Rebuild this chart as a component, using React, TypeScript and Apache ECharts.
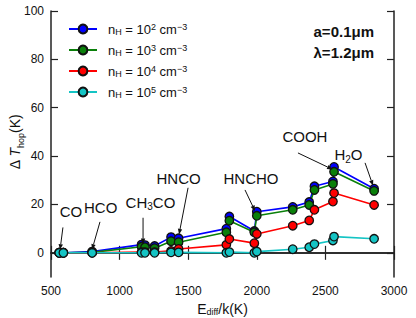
import React, { useEffect, useRef } from "react";
import * as echarts from "echarts";

// ---- data ----
const xs = [560, 590, 800, 1160, 1185, 1255, 1375, 1430, 1778, 1800, 1982, 2000, 2262, 2382, 2420, 2555, 2563, 2855];
const yN2 = [0, 0, 0.5, 3.4, 3.2, 2.8, 6.5, 6.0, 10.0, 15.0, 9.0, 17.0, 19.0, 21.0, 27.5, 29.5, 35.5, 26.5];
const yN3 = [0, 0, 0.2, 2.5, 2.3, 1.9, 4.8, 4.4, 8.5, 13.3, 8.5, 15.3, 17.8, 19.8, 26.0, 28.5, 33.5, 25.6];
const yN4 = [0, 0, 0, 0.3, 0.3, 0.3, 0.8, 1.6, 3.3, 5.7, 4.0, 7.8, 11.2, 13.4, 17.8, 21.2, 24.7, 19.8];
const yN5 = [0, 0, 0, 0, 0, 0, 0.2, 0.2, 0, 0.3, 0, 0.5, 1.5, 2.3, 3.6, 5.1, 6.7, 5.8];
const exponents = [2, 3, 4, 5];
const colors = ["#0000ff", "#0a800a", "#ff0000", "#14c4c4"];
const seriesValues = [yN2, yN3, yN4, yN5];
const yTicks = [0, 20, 40, 60, 80, 100];

// annotations: label (rich), text center [x,y], arrow start, arrow tip (data coords)
const annLabels = ["CO", "HCO", "CH{s|3}CO", "HNCO", "HNCHO", "COOH", "H{s|2}O"];
const annText = [[645, 17], [862, 18.6], [1225, 21], [1430, 30.6], [1958, 30.6], [2351, 48.3], [2668, 40.5]];
const annFrom = [[587, 10.5], [857, 12.8], [1171, 14.5], [1499, 26.9], [1914, 26.0], [2300, 41.3], [2789, 37.2]];
const annTo = [[566, 1.3], [799, 1.3], [1171, 3.6], [1433, 7.6], [1987, 17.3], [2552, 34.5], [2847, 27.8]];

const FONT = "Liberation Sans, Arial, Helvetica, sans-serif";

export default function App() {
  const ref = useRef<HTMLDivElement>(null);
  useEffect(() => {
    document.body.style.margin = "0";
    const chart = echarts.init(ref.current!, undefined, { renderer: "svg" });
    const rich = {
      b: { fontSize: 13, fontFamily: FONT, color: "#111", lineHeight: 14 },
      sub: { fontSize: 9, fontFamily: FONT, color: "#111", lineHeight: 14, verticalAlign: "bottom" },
      sup: { fontSize: 9, fontFamily: FONT, color: "#111", lineHeight: 14, verticalAlign: "top" },
    };
    const axisLine = { show: true, lineStyle: { color: "#222", width: 1.5 } };
    const fmt = (v: number) => String(v);
    chart.setOption({
      animation: false,
      grid: { left: 51, top: 11, width: 343, height: 266, outerBoundsMode: "none", containLabel: false },
      legend: {
        orient: "vertical",
        left: 63,
        top: 17,
        itemWidth: 28,
        itemHeight: 11,
        itemGap: 7,
        textStyle: { fontFamily: FONT, fontSize: 13, color: "#111", padding: [0, 0, 0, 6], rich },
        formatter: (name: string) => {
          const e = name.split("^")[1];
          return `{b|n}{sub|H}{b| = 10}{sup|${e}}{b| cm}{sup|−3}`;
        },
      },
      xAxis: [
        {
          type: "value",
          min: 500,
          max: 3000,
          interval: 500,
          axisLine,
          axisTick: { inside: true, length: 7, lineStyle: { color: "#222", width: 1.2 } },
          axisLabel: { fontFamily: FONT, fontSize: 12, color: "#111", margin: 8, formatter: fmt },
          splitLine: { show: false },
          name: "{b|E}{s|diff}{b|/k(K)}",
          nameLocation: "middle",
          nameGap: 22,
          nameTextStyle: {
            rich: {
              b: { fontSize: 14, fontFamily: FONT, color: "#111", lineHeight: 16 },
              s: { fontSize: 9, fontFamily: FONT, color: "#111", lineHeight: 16, verticalAlign: "bottom" },
            },
          },
        },
        {
          type: "value",
          position: "top",
          min: 500,
          max: 3000,
          interval: 500,
          axisLine,
          axisTick: { inside: true, length: 7, lineStyle: { color: "#222", width: 1.2 } },
          axisLabel: { show: false },
          splitLine: { show: false },
        },
      ],
      yAxis: [
        {
          type: "value",
          min: -10,
          max: 100,
          axisLine,
          axisTick: { inside: true, length: 7, customValues: yTicks, lineStyle: { color: "#222", width: 1.2 } },
          axisLabel: { customValues: yTicks, fontFamily: FONT, fontSize: 12, color: "#111", margin: 7, formatter: fmt },
          splitLine: { show: false },
        },
        {
          type: "value",
          position: "right",
          min: -10,
          max: 100,
          axisLine,
          axisTick: { inside: true, length: 7, customValues: yTicks, lineStyle: { color: "#222", width: 1.2 } },
          axisLabel: { show: false },
          splitLine: { show: false },
        },
      ],
      series: seriesValues.map((vals, i) => ({
        name: `nH^${exponents[i]}`,
        type: "line",
        xAxisIndex: 0,
        yAxisIndex: 0,
        data: xs.map((x, j) => [x, vals[j]]),
        symbol: "circle",
        symbolSize: 8.5,
        lineStyle: { color: colors[i], width: 1.6 },
        itemStyle: { color: colors[i], borderColor: "#111", borderWidth: 1.3 },
        emphasis: { disabled: true },
      })),
    });

    const toPx = (p: number[]) => chart.convertToPixel({ xAxisIndex: 0, yAxisIndex: 0 }, p) as number[];
    const graphics: any[] = [];
    annLabels.forEach((lab, i) => {
      const t = toPx(annText[i]);
      const a = toPx(annFrom[i]);
      const b = toPx(annTo[i]);
      graphics.push({
        type: "text",
        x: t[0],
        y: t[1],
        style: {
          text: lab,
          align: "center",
          verticalAlign: "middle",
          fontFamily: FONT,
          fontSize: 15,
          fill: "#111",
          rich: {
            s: { fontSize: 10, fontFamily: FONT, fill: "#111", verticalAlign: "bottom", padding: [0, 0, -2, 0] },
          },
        },
        z: 100,
      });
      const dx = b[0] - a[0];
      const dy = b[1] - a[1];
      const len = Math.hypot(dx, dy);
      const ux = dx / len;
      const uy = dy / len;
      const hl = 5.5;
      const hw = 2.2;
      const bx = b[0] - ux * hl;
      const by = b[1] - uy * hl;
      graphics.push({
        type: "line",
        shape: { x1: a[0], y1: a[1], x2: bx, y2: by },
        style: { stroke: "#111", lineWidth: 1 },
        z: 100,
      });
      graphics.push({
        type: "polygon",
        shape: {
          points: [
            [b[0], b[1]],
            [bx - uy * hw, by + ux * hw],
            [bx + uy * hw, by - ux * hw],
          ],
        },
        style: { fill: "#111" },
        z: 100,
      });
    });
    // y-axis title, centred on the axis middle
    const mid = toPx([500, 45]);
    graphics.push({
      type: "text",
      x: 15,
      y: mid[1] - 2,
      rotation: Math.PI / 2,
      style: {
        text: "Δ {i|T}{s|hop}(K)",
        align: "center",
        verticalAlign: "middle",
        fontFamily: FONT,
        fontSize: 14,
        fill: "#111",
        rich: {
          i: { fontSize: 14, fontFamily: FONT, fontStyle: "italic", fill: "#111" },
          s: { fontSize: 9, fontFamily: FONT, fill: "#111", verticalAlign: "bottom", padding: [0, 0, -3, 0] },
        },
      },
      z: 100,
    });
    graphics.push({
      type: "text",
      right: 42,
      top: 24,
      style: { text: "a=0.1μm", fontFamily: FONT, fontSize: 15, fontWeight: "bold", fill: "#111" },
      z: 100,
    });
    graphics.push({
      type: "text",
      right: 42,
      top: 45,
      style: { text: "λ=1.2μm", fontFamily: FONT, fontSize: 15, fontWeight: "bold", fill: "#111" },
      z: 100,
    });
    chart.setOption({ graphic: graphics });
    return () => chart.dispose();
  }, []);
  return <div ref={ref} style={{ width: 416, height: 318 }} />;
}
